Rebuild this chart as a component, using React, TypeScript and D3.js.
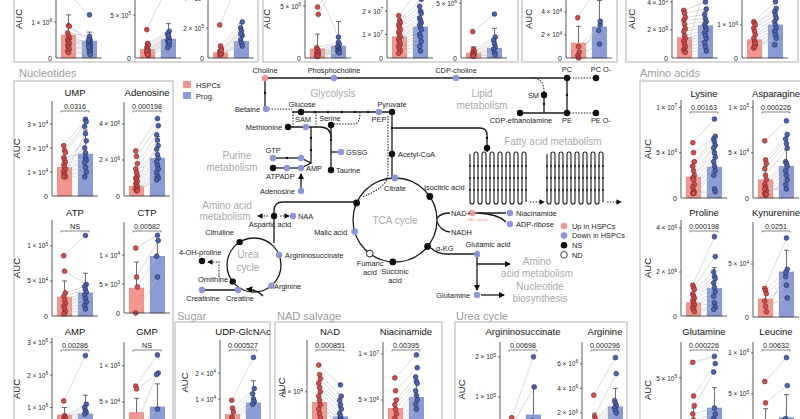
import * as d3 from 'd3';
import React from 'react';

const FONT = '"Liberation Sans", Arial, Helvetica, sans-serif';

// ---- small bar charts: values are in units of 10^unitExp ----
const metabolites = ['', '', '', '', '', '', '', '', '',
  'UMP', 'Adenosine', 'ATP', 'CTP', 'AMP', 'GMP',
  'Lysine', 'Asparagine', 'Proline', 'Kynurenine', 'Glutamine', 'Leucine',
  'UDP-GlcNAc', 'NAD', 'Niacinamide', 'Argininosuccinate', 'Arginine'];
const pValues = ['', '', '', '', '', '', '', '', '',
  '0.0316', '0.000198', 'NS', '0.00582', '0.00286', 'NS',
  '0.00163', '0.000226', '0.000198', '0.0251', '0.000226', '0.00632',
  '0.000527', '0.000851', '0.00395', '0.00698', '0.000296'];
const unitExp = [6, 5, 5, 6, 7, 6, 4, 5, 6, 4, 6, 4, 3, 6, 4, 6, 4, 6, 4, 5, 5, 4, 4, 6, 5, 6];
const yTop = [2.17, 9.07, 5.2, 7.5, 3.32, 7.1, 6.78, 5.57, 2.36, 3.96, 5.22, 13.7, 15.7, 3.14, 13.3,
  10.8, 10.8, 4.36, 8.96, 8, 11.3, 3.27, 11, 11.3, 2.37, 7.77];
const yTicks = [[1], [5], [2, 4], [5], [1, 2], [5], [2, 4], [2, 4], [1], [1, 2, 3], [2, 4], [5, 10], [5, 10],
  [1, 2, 3], [5, 10], [5, 10], [5, 10], [2, 4], [5], [5], [5, 10], [1, 2], [5], [5, 10], [1, 2], [2, 4, 6]];
const hspcMean = [0.64, 1.0, 0.35, 0.87, 0.9, 0.45, 1.3, 1.45, 0.55, 1.2, 0.55, 2.7, 4.3, 0.77, 3.5,
  2.3, 2.0, 0.6, 1.7, 1.5, 1.5, 0.4, 3.8, 4.1, 0.2, 1.2];
const progMean = [0.47, 2.2, 1.1, 1.15, 1.32, 0.9, 2.7, 2.3, 1.0, 1.75, 2.1, 3.3, 9.8, 0.8, 4.3,
  3.4, 3.5, 1.25, 4.25, 2.5, 2.1, 0.85, 2.1, 5.3, 0.55, 2.5];
const hspcErr = [1.2, 1.6, 0.9, 2.3, 1.3, 1.0, 2.75, 2.1, 0.8, 1.6, 1.3, 5.0, 8.8, 1.0, 5.5,
  4.0, 3.5, 0.95, 2.4, 2.5, 3.2, 0.6, 5.6, 5.0, 0.4, 2.0];
const progErr = [0.72, 4.0, 2.3, 3.5, 2.0, 2.7, 5.0, 3.3, 1.4, 2.75, 3.3, 6.1, 12.5, 1.38, 7.5,
  4.8, 5.3, 2.2, 6.3, 4.2, 4.9, 1.7, 3.2, 7.0, 1.25, 4.0];
const hspcPoints = [
  [1.8, 0.9, 0.88, 0.7, 0.62, 0.55, 0.5, 0.45, 0.4, 0.35, 0.3, 0.25, 0.2, 0.15],
  [3.3, 1.7, 1.5, 1.2, 1.0, 0.8, 0.6, 0.5, 0.3, 0.8, 0.4],
  [2.2, 0.8, 0.6, 0.45, 0.35, 0.25, 0.2, 0.3, 0.5],
  [6.8, 4.9, 4.2, 1.0, 0.8, 0.6, 0.5, 0.4, 0.3, 0.2, 0.15],
  [1.8, 1.6, 1.5, 1.4, 1.3, 1.2, 1.1, 1.0, 0.9, 0.8, 0.7, 0.6, 0.5, 0.4, 0.3, 0.2],
  [2.4, 0.8, 0.6, 0.5, 0.4, 0.3, 0.2, 0.15],
  [3.5, 1.0, 0.5, 0.2, 0.0],
  [3.4, 3.2, 2.9, 2.7, 2.4, 2.1, 1.9, 1.6, 1.4, 1.2, 1.0, 0.8, 0.6, 0.5, 0.4],
  [1.1, 1.05, 1.0, 0.9, 0.8, 0.7, 0.6, 0.5, 0.4, 0.3, 0.35, 0.45],
  [2.1, 1.9, 1.8, 1.6, 1.5, 1.4, 1.3, 1.2, 1.1, 1.0, 0.9, 0.8, 0.8],
  [2.5, 2.2, 1.8, 1.5, 1.3, 1.1, 1.0, 0.9, 0.8, 0.7, 0.6, 0.5, 0.4, 0.3, 0.3],
  [8.6, 6.4, 3.3, 2.8, 2.3, 1.8, 1.4, 1.0, 0.6, 0.3],
  [11.2, 6.2, 4.5, 0.0],
  [1.2, 0.75, 0.7, 0.65, 0.6, 0.5],
  [7.2, 6.8, 2.0, 1.5, 1.0],
  [6.1, 5.0, 4.0, 3.5, 3.0, 2.5, 2.2, 2.0, 1.5, 1.2, 0.8, 0.6, 0.5, 0.5],
  [6.3, 4.2, 3.8, 3.2, 2.5, 2.0, 1.5, 1.2, 0.8, 0.5, 0.3, 0.4, 1.0],
  [1.4, 1.3, 1.2, 1.0, 0.9, 0.8, 0.7, 0.6, 0.5, 0.4, 0.3, 0.2],
  [2.7, 2.5, 2.2, 1.5, 1.0, 0.5],
  [6.3, 3.5, 2.7, 2.0, 1.5, 1.0, 0.8, 0.5, 0.3],
  [6.5, 3.9, 1.5, 1.0, 0.5],
  [0.95, 0.65, 0.5, 0.3, 0.2, 0.1],
  [8.1, 7.0, 6.5, 6.0, 5.5, 5.0, 4.5, 4.0, 3.5, 3.0, 2.5, 2.0, 1.5],
  [7.4, 6.0, 5.0, 4.5, 4.0, 3.5, 3.0, 2.5, 2.0, 1.5],
  [0.48, 0.3, 0.2, 0.1],
  [3.45, 1.75, 1.5, 1.3, 1.2, 1.0, 0.8, 0.6],
];
const progPoints = [
  [1.2, 0.5, 0.45, 0.6, 0.4, 0.42, 0.35, 0.3, 0.5, 0.25, 0.2, 0.3, 0.15, 0.1],
  [8.5, 3.1, 2.8, 2.5, 2.2, 2.0, 1.8, 1.5, 1.2, 2.6, 1.9],
  [5.5, 2.4, 2.0, 1.8, 1.5, 1.2, 1.0, 0.8, 1.6],
  [2.0, 8.0, 7.5, 1.5, 1.3, 1.1, 0.9, 0.8, 0.7, 0.6, 0.5],
  [3.0, 2.5, 2.2, 2.0, 1.9, 1.7, 1.6, 1.5, 1.4, 1.3, 1.2, 1.0, 0.9, 0.7, 0.5, 0.3],
  [4.0, 1.9, 1.6, 1.3, 1.0, 0.8, 0.5, 0.3],
  [6.5, 2.9, 2.4, 1.2, 3.2],
  [4.0, 3.5, 3.1, 2.8, 2.6, 2.4, 2.2, 2.0, 1.8, 1.6, 1.4, 1.1, 0.8, 0.5, 5.0],
  [1.7, 1.5, 1.4, 1.3, 1.2, 1.1, 1.0, 0.9, 0.8, 0.7, 0.6, 0.4],
  [3.2, 3.1, 2.9, 1.8, 2.3, 2.0, 1.6, 1.5, 1.4, 1.2, 1.0, 0.8, 2.6],
  [4.3, 3.9, 3.4, 3.1, 2.8, 2.6, 2.3, 2.1, 1.9, 1.7, 1.5, 1.3, 1.1, 1.0, 0.9],
  [11.5, 4.5, 4.2, 3.8, 3.4, 3.0, 2.5, 2.0, 1.5, 1.0],
  [13.4, 12.5, 9.8, 6.2],
  [2.6, 1.1, 1.0, 0.9, 0.85, 0.8],
  [11.5, 9.0, 8.8, 4.0, 2.0],
  [8.7, 6.8, 6.5, 6.2, 5.8, 5.5, 5.0, 4.5, 4.0, 3.5, 3.0, 2.5, 1.0, 0.7],
  [8.5, 7.0, 6.5, 6.0, 5.5, 4.0, 3.8, 3.5, 3.0, 2.5, 2.0, 1.5, 1.0],
  [3.6, 2.7, 2.0, 1.8, 1.7, 1.5, 1.3, 1.1, 0.9, 0.6, 0.4, 0.3],
  [7.45, 4.5, 3.8, 3.0, 1.8, 4.2],
  [6.8, 6.2, 5.5, 2.5, 2.0, 1.6, 1.2, 1.0, 0.8],
  [9.4, 6.0, 2.0, 1.0, 0.5],
  [2.6, 1.4, 1.2, 1.0, 0.9, 0.8],
  [5.8, 4.5, 4.0, 3.5, 3.0, 2.5, 2.0, 1.5, 1.0, 2.2, 1.8, 1.2, 0.8],
  [9.9, 8.5, 7.5, 7.0, 6.8, 6.0, 5.5, 5.0, 4.5, 4.0],
  [2.0, 1.25, 0.4, 0.2],
  [6.5, 5.2, 3.0, 2.8, 2.6, 2.4, 2.2, 2.0],
];
const groups = ['HSPCs', 'Prog.'];

// ---- where each small chart sits: axis x, baseline, axis top, title y, AUC offset ----
const layout = [
  { ax: 56, base: 58, top: -20, ty: -40, auc: 34 },
  { ax: 135, base: 58, top: -20, ty: -40, auc: 0 },
  { ax: 208, base: 58, top: -20, ty: -40, auc: 0 },
  { ax: 305, base: 58, top: -20, ty: -40, auc: 35 },
  { ax: 387, base: 58, top: -20, ty: -40, auc: 0 },
  { ax: 461, base: 58, top: -20, ty: -40, auc: 0 },
  { ax: 566, base: 58, top: -20, ty: -40, auc: 34 },
  { ax: 672, base: 58, top: -20, ty: -40, auc: 37 },
  { ax: 742, base: 58, top: -20, ty: -40, auc: 0 },
  { ax: 52, base: 196, top: 101, ty: 92, auc: 32 },
  { ax: 124, base: 196, top: 102, ty: 92, auc: 0 },
  { ax: 52, base: 316, top: 220, ty: 212, auc: 32 },
  { ax: 124, base: 313, top: 222, ty: 212, auc: 0 },
  { ax: 52, base: 440, top: 338, ty: 331, auc: 32 },
  { ax: 124, base: 438, top: 342, ty: 331, auc: 0 },
  { ax: 681, base: 198, top: 100, ty: 93, auc: 30 },
  { ax: 753, base: 198, top: 100, ty: 93, auc: 0 },
  { ax: 681, base: 316, top: 220, ty: 212, auc: 30 },
  { ax: 753, base: 317, top: 222, ty: 212, auc: 0 },
  { ax: 681, base: 438, top: 342, ty: 331, auc: 30 },
  { ax: 753, base: 435, top: 342, ty: 331, auc: 0 },
  { ax: 220, base: 425, top: 340, ty: 331, auc: 32 },
  { ax: 307, base: 435, top: 340, ty: 331, auc: 22 },
  { ax: 383, base: 446, top: 342, ty: 331, auc: 0 },
  { ax: 500, base: 437, top: 342, ty: 331, auc: 35 },
  { ax: 582, base: 437.6, top: 342, ty: 331, auc: 0 },
];

const C = {
  redBar: '#f0968f', blueBar: '#8c9bd3', redPt: '#d04d4b', bluePt: '#4d63ae',
  redEdge: '#6e2222', blueEdge: '#1d2859', frame: '#c8c8c8', section: '#9c9c9c',
  up: '#ee9994', down: '#8d97d6', grey: '#aaaaaa',
};

function sci(v: number, exp: number) {
  const abs = v * Math.pow(10, exp);
  const e = Math.floor(Math.log10(abs) + 1e-9);
  const m = Math.round(abs / Math.pow(10, e));
  return { m, e };
}

const MiniChart = ({ i }: { i: number }) => {
  const L = layout[i];
  const y = d3.scaleLinear().domain([0, yTop[i]]).range([L.base, L.top]);
  const x = d3.scaleBand().domain(groups).range([L.ax, L.ax + 46]).paddingInner(0.3).paddingOuter(0.25);
  const bw = x.bandwidth();
  const cx = (g: string) => (x(g) ?? 0) + bw / 2;
  const jit = (k: number) => (((k * 7) % 3) - 1) * 0.8;
  const means = [hspcMean[i], progMean[i]];
  const errs = [hspcErr[i], progErr[i]];
  const h = hspcPoints[i];
  const p = progPoints[i];
  const mid = (L.ax + 23);
  return (
    <g>
      {groups.map((g, k) => (
        <rect key={g} x={x(g)} y={y(means[k])} width={bw} height={L.base - y(means[k])}
          fill={k === 0 ? C.redBar : C.blueBar} stroke={k === 0 ? '#d97a73' : '#6f80bf'} strokeWidth={0.5} />
      ))}
      {groups.map((g, k) => (
        <g key={g} stroke="#444" strokeWidth={0.8}>
          <line x1={cx(g)} x2={cx(g)} y1={y(means[k])} y2={y(errs[k])} />
          <line x1={cx(g) - 2.5} x2={cx(g) + 2.5} y1={y(errs[k])} y2={y(errs[k])} />
        </g>
      ))}
      {h.map((v, k) => (
        <line key={k} x1={cx(groups[0]) + jit(k)} y1={y(v)} x2={cx(groups[1]) + jit(k + 1)} y2={y(p[k])}
          stroke="#c3c3c3" strokeWidth={0.6} />
      ))}
      {h.map((v, k) => (
        <circle key={'h' + k} cx={cx(groups[0]) + jit(k)} cy={y(v)} r={2.4} fill={C.redPt} stroke={C.redEdge} strokeWidth={0.6} />
      ))}
      {p.map((v, k) => (
        <circle key={'p' + k} cx={cx(groups[1]) + jit(k + 1)} cy={y(v)} r={2.4} fill={C.bluePt} stroke={C.blueEdge} strokeWidth={0.6} />
      ))}
      <line x1={L.ax} x2={L.ax} y1={L.base} y2={L.top} stroke="#333" strokeWidth={0.8} />
      <line x1={L.ax} x2={L.ax + 46} y1={L.base} y2={L.base} stroke="#333" strokeWidth={0.8} />
      <text x={L.ax - 4} y={L.base + 2.5} fontSize={7} textAnchor="end" fill="#222">0</text>
      {yTicks[i].map((t) => {
        const s = sci(t, unitExp[i]);
        return (
          <g key={t}>
            <line x1={L.ax - 2} x2={L.ax} y1={y(t)} y2={y(t)} stroke="#333" strokeWidth={0.7} />
            <text x={L.ax - 4} y={y(t) + 2.5} fontSize={6.5} textAnchor="end" fill="#222">
              {s.m} × 10<tspan dy={-2.8} fontSize={4.6}>{s.e}</tspan>
            </text>
          </g>
        );
      })}
      {L.auc > 0 && (
        <text transform={`translate(${L.ax - L.auc},${(L.base + L.top) / 2}) rotate(-90)`} textAnchor="middle"
          fontSize={9.5} fill="#222">AUC</text>
      )}
      {metabolites[i] && (
        <text x={mid} y={L.ty + 3.5} textAnchor="middle" fontSize={9.5} fill="#111">{metabolites[i]}</text>
      )}
      {pValues[i] && (
        <g>
          <text x={mid} y={L.ty + 16.5} textAnchor="middle" fontSize={7.2} fill="#222">{pValues[i]}</text>
          <path d={`M${L.ax + 9},${L.ty + 20.5} V${L.ty + 19} H${L.ax + 37} V${L.ty + 20.5}`} fill="none" stroke="#333" strokeWidth={0.6} />
        </g>
      )}
    </g>
  );
};

// ---- pathway diagram ----
type St = 'up' | 'down' | 'ns' | 'nd';
const nodeFill = (s: St) => (s === 'up' ? C.up : s === 'down' ? C.down : s === 'ns' ? '#111' : '#fff');

const tca = { cx: 395, cy: 220, r: 42 };
const urea = { cx: 254, cy: 265, r: 27 };
const onCircle = (c: { cx: number; cy: number; r: number }, deg: number): [number, number] => {
  const a = (deg * Math.PI) / 180;
  return [c.cx + c.r * Math.sin(a), c.cy - c.r * Math.cos(a)];
};

const tcaNodes: [number, St][] = [[0, 'down'], [56, 'ns'], [129, 'ns'], [183, 'ns'], [217, 'nd'], [254, 'down'], [294, 'ns']];
const ureaNodes: [number, St][] = [[328, 'ns'], [68, 'down'], [140, 'down'], [232, 'ns']];

const pathNodes: [number, number, St][] = [
  [265, 78, 'up'], [334, 78, 'down'], [456, 78, 'down'], [567, 78, 'ns'], [596, 78, 'ns'], [544, 95, 'ns'],
  [567, 113, 'ns'], [520, 113, 'ns'], [596, 113, 'ns'],
  [266, 109, 'down'], [301, 112, 'ns'], [331, 125, 'ns'], [379, 112, 'down'], [392, 112, 'ns'],
  [288, 127, 'ns'], [306, 127, 'down'], [341, 152, 'down'], [331, 170, 'ns'],
  [273, 158, 'down'], [301, 158, 'down'], [273, 168, 'ns'], [287, 168, 'down'], [301, 168, 'down'], [301, 191, 'down'],
  [392, 154, 'ns'], [487, 148, 'ns'],
  [472, 213, 'up'], [510, 213, 'down'], [510, 224, 'down'],
  [477, 254, 'down'], [477, 295, 'down'],
  [274, 216, 'ns'], [293, 216, 'down'],
  [202, 261, 'ns'], [202, 290, 'down'], [238, 290, 'down'],
];
const smallDots: [number, number][] = [
  [287, 158], [265, 93], [315, 112], [328, 112], [342, 112], [355, 112], [368, 112], [311, 138], [311, 150],
  [544, 104], [567, 95], [331, 140], [392, 128], [487, 138],
];

const pathLabels: [string, number, number, string][] = [
  ['Choline', 265, 73, 'middle'], ['Phosphocholine', 334, 73, 'middle'], ['CDP-choline', 456, 73, 'middle'],
  ['PC', 567, 72, 'middle'], ['PC O-', 601, 72, 'middle'], ['SM', 539, 98, 'end'],
  ['CDP-ethanolamine', 521, 123, 'middle'], ['PE', 567, 123, 'middle'], ['PE O-', 601, 123, 'middle'],
  ['Betaine', 260, 111.5, 'end'], ['Glucose', 302, 107, 'middle'], ['Serine', 330, 121, 'middle'],
  ['Pyruvate', 392, 107, 'middle'], ['PEP', 379, 122, 'middle'],
  ['Methionine', 282, 129.5, 'end'], ['SAM', 303, 122, 'middle'], ['GSSG', 346, 154.5, 'start'],
  ['Taurine', 336, 172.5, 'start'], ['GTP', 273, 153, 'middle'], ['ATP', 273, 179, 'middle'],
  ['ADP', 287, 179, 'middle'], ['AMP', 306, 171, 'start'], ['Adenosine', 295, 193.5, 'end'],
  ['Acetyl-CoA', 398, 156.5, 'start'], ['Citrate', 395, 191, 'middle'], ['Isocitric acid', 424, 190, 'start'],
  ['Malic acid', 347, 235, 'end'], ['Fumaric', 370, 266, 'middle'], ['acid', 370, 275, 'middle'],
  ['Succinic', 395, 274, 'middle'], ['acid', 395, 283, 'middle'], ['α-KG', 436, 251, 'start'],
  ['NAD+', 451, 216, 'start'], ['NADH', 451, 235, 'start'], ['Niacinamide', 516, 216, 'start'],
  ['ADP-ribose', 516, 227, 'start'], ['Glutamic acid', 488, 247, 'middle'], ['Glutamine', 470, 298, 'end'],
  ['Aspartic acid', 270, 227, 'middle'], ['NAA', 298, 218.5, 'start'], ['Citrulline', 234, 235, 'end'],
  ['4-OH-proline', 179, 255, 'start'], ['Argininosuccinate', 285, 258, 'start'], ['Ornithine', 228, 282, 'end'],
  ['Arginine', 274, 289, 'start'], ['Creatinine', 203, 301, 'middle'], ['Creatine', 240, 301, 'middle'],
];
const greyLabels: [string, number, number][] = [
  ['Glycolysis', 333, 97], ['Lipid', 482, 97], ['metabolism', 482, 109], ['Fatty acid metabolism', 553, 145],
  ['Purine', 237, 159], ['metabolism', 232, 171], ['TCA cycle', 395, 224], ['Amino acid', 227, 208.5],
  ['metabolism', 225, 220], ['Urea', 248, 258], ['cycle', 248, 271], ['Amino', 537, 265],
  ['acid metabolism', 537, 277], ['Nucleotide', 540, 290], ['biosynthesis', 540, 302],
];
const solidPaths = [
  'M265,78 H567', 'M265,78 V109', 'M567,78 V113', 'M520,113 H567', 'M544,95 V113',
  'M292,112 H392', 'M331,125 V170', 'M331,152 H341', 'M288,127 H320 Q331,127 331,138',
  'M311,127 V163 L301,168', 'M301,158 L311,163', 'M273,158 H301', 'M273,168 H301',
  'M392,112 V178', 'M392,128 H480 Q487,128 487,135 V152',
  'M437,218 Q441,213 450,213', 'M437,222 Q441,231 450,232', 'M472,213 H506', 'M478,213 Q498,214 506,222',
  'M431,248 Q437,254 447,254 H474', 'M356,202 H283 Q274,202 274,211 V243', 'M202,290 H238',
];
const arrowPaths = ['M301,188 V174', 'M477,254 V290', 'M477,264 H510', 'M481,295 H504', 'M263,296 Q258,290 247,289'];
const dottedPaths = [
  'M532,78 Q544,78 544,92', 'M567,78 H596', 'M567,113 H596', 'M266,109 H292',
  'M331,124 H354 Q360,124 360,112', 'M293,112 V127', 'M316,112 V127', 'M388,116 V176 Q386,188 362,197',
];
const dottedArrows = ['M268,216 H258', 'M280,216 H289', 'M219,277 V262 H208', 'M530,202 H544', 'M607,202 H621'];

function serpentine(x0: number, yT: number, yB: number, n: number, s: number) {
  const p = d3.path();
  p.moveTo(x0, yT);
  let x = x0;
  for (let k = 0; k < n; k++) {
    const down = k % 2 === 0;
    p.lineTo(x, down ? yB : yT);
    if (k < n - 1) {
      if (down) p.arc(x + s / 2, yB, s / 2, Math.PI, 0, true);
      else p.arc(x + s / 2, yT, s / 2, Math.PI, 0, false);
      x += s;
    }
  }
  return { d: p.toString(), xs: d3.range(n).map((k) => x0 + k * s) };
}

const legendRows: [St, string][] = [['up', 'Up in HSPCs'], ['down', 'Down in HSPCs'], ['ns', 'NS'], ['nd', 'ND']];

const Pathway = () => {
  const blocks = [serpentine(470, 154, 202, 15, 4), serpentine(547, 154, 202, 15, 4)];
  return (
    <g fontFamily={FONT}>
      <defs>
        <marker id="arr" viewBox="0 0 6 6" refX={5} refY={3} markerWidth={5} markerHeight={5} orient="auto">
          <path d="M0,0 L6,3 L0,6 z" fill="#111" />
        </marker>
      </defs>
      <g fill="none" stroke="#1a1a1a" strokeWidth={1.3}>
        <circle cx={tca.cx} cy={tca.cy} r={tca.r} />
        <circle cx={urea.cx} cy={urea.cy} r={urea.r} />
        {solidPaths.map((d, k) => <path key={k} d={d} />)}
        {arrowPaths.map((d, k) => <path key={k} d={d} markerEnd="url(#arr)" />)}
        {blocks.map((b, k) => <path key={k} d={b.d} strokeWidth={1.1} />)}
      </g>
      <g fill="none" stroke="#1a1a1a" strokeWidth={1.1} strokeDasharray="1.4 1.4">
        {dottedPaths.map((d, k) => <path key={k} d={d} />)}
        {dottedArrows.map((d, k) => <path key={k} d={d} markerEnd="url(#arr)" />)}
      </g>
      {blocks.map((b, k) => (
        <g key={k}>
          {b.xs.map((xx) => [166, 178, 190].map((yy) => <circle key={xx + '-' + yy} cx={xx} cy={yy} r={0.9} fill="#111" />))}
        </g>
      ))}
      {smallDots.map(([x, y], k) => <circle key={k} cx={x} cy={y} r={1.2} fill="#111" />)}
      {pathNodes.map(([x, y, s], k) => (
        <circle key={k} cx={x} cy={y} r={3.2} fill={nodeFill(s)} stroke={s === 'nd' ? '#111' : 'none'} strokeWidth={0.8} />
      ))}
      {tcaNodes.map(([deg, s], k) => {
        const [x, y] = onCircle(tca, deg);
        return <circle key={k} cx={x} cy={y} r={3.4} fill={nodeFill(s)} stroke={s === 'nd' ? '#111' : 'none'} strokeWidth={0.9} />;
      })}
      {ureaNodes.map(([deg, s], k) => {
        const [x, y] = onCircle(urea, deg);
        return <circle key={k} cx={x} cy={y} r={3.2} fill={nodeFill(s)} />;
      })}
      {pathLabels.map(([t, x, y, a], k) => (
        <text key={k} x={x} y={y} fontSize={7.4} textAnchor={a as any} fill="#222">{t}</text>
      ))}
      {greyLabels.map(([t, x, y], k) => (
        <text key={k} x={x} y={y} fontSize={10} textAnchor="middle" fill={C.grey}>{t}</text>
      ))}
      <text x={478} y={221} fontSize={3.5} textAnchor="middle" fill={C.up}>NAD salvage</text>
      {legendRows.map(([s, t], k) => (
        <g key={t}>
          <circle cx={564} cy={226 + k * 9.6} r={3.3} fill={nodeFill(s)} stroke={s === 'nd' ? '#111' : 'none'} strokeWidth={0.8} />
          <text x={572} y={228.7 + k * 9.6} fontSize={7.4} fill="#222">{t}</text>
        </g>
      ))}
    </g>
  );
};

const frames = [
  { x: 14, y: -10, w: 244, h: 72 }, { x: 263, y: -10, w: 255, h: 72 }, { x: 522, y: -10, w: 95, h: 72 },
  { x: 626, y: -10, w: 172, h: 72 }, { x: 14, y: 81, w: 159, h: 400 }, { x: 640, y: 81, w: 200, h: 400 },
  { x: 175, y: 322, w: 95, h: 200 }, { x: 275, y: 322, w: 167, h: 200 }, { x: 455, y: 322, w: 172, h: 200 },
];
const sections: [string, number, number][] = [
  ['Nucleotides', 19, 76.5], ['Amino acids', 640, 76.5], ['Sugar', 177, 320], ['NAD salvage', 277, 320], ['Urea cycle', 456, 320],
];

export default function App() {
  return (
    <svg width={800} height={419} style={{ position: 'absolute', left: 0, top: 0, background: '#fff' }} fontFamily={FONT}>
      <rect width={800} height={419} fill="#fff" />
      {frames.map((f, k) => (
        <rect key={k} x={f.x} y={f.y} width={f.w} height={f.h} fill="none" stroke={C.frame} strokeWidth={1.4} />
      ))}
      {sections.map(([t, x, y]) => (
        <text key={t} x={x} y={y} fontSize={11} fill={C.section}>{t}</text>
      ))}
      <rect x={183} y={81} width={8} height={7} fill={C.redBar} />
      <rect x={183} y={92} width={8} height={7} fill={C.blueBar} />
      <text x={196} y={87.5} fontSize={7.5} fill="#222">HSPCs</text>
      <text x={196} y={98.5} fontSize={7.5} fill="#222">Prog.</text>
      <Pathway />
      {metabolites.map((_, i) => <MiniChart key={i} i={i} />)}
    </svg>
  );
}
